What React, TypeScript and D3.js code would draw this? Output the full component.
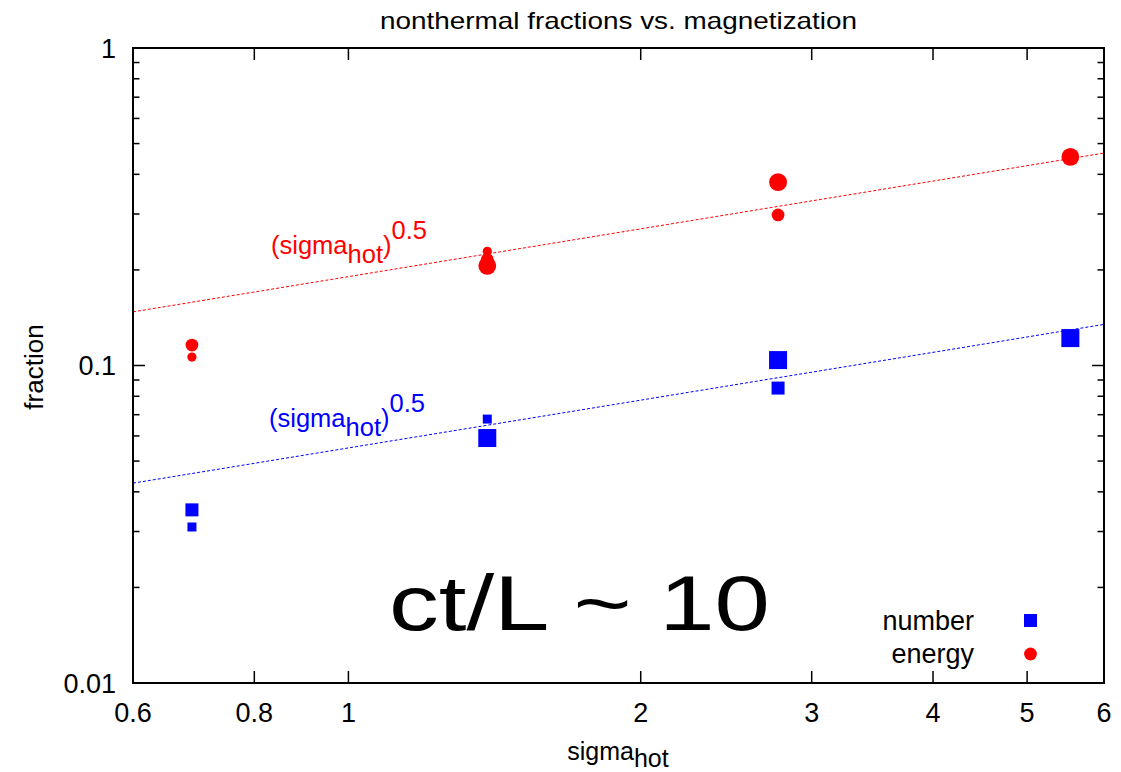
import React from "react";
import * as d3 from "d3";

// ---- data ----
const energySigma = [0.69, 0.69, 1.39, 1.39, 1.39, 2.77, 2.77, 5.54];
const energyFrac = [0.116, 0.1063, 0.229, 0.2158, 0.206, 0.378, 0.298, 0.454];
const energySize = ["m", "s", "s", "m", "l", "l", "m", "l"];
const numberSigma = [0.69, 0.69, 1.39, 1.39, 2.77, 2.77, 5.54];
const numberFrac = [0.0351, 0.031, 0.0678, 0.0591, 0.104, 0.0849, 0.122];
const numberSize = ["m", "s", "s", "l", "l", "m", "l"];
const energyFitCoef = 0.1905;
const numberFitCoef = 0.055;
const fitExponent = 0.5;
const xTicks = [0.6, 0.8, 1, 2, 3, 4, 5, 6];
const xTickLabels = ["0.6", "0.8", "1", "2", "3", "4", "5", "6"];
const yMajorTicks = [0.01, 0.1, 1];
const yMajorLabels = ["0.01", "0.1", "1"];
const yMinorMultipliers = [2, 3, 4, 5, 6, 7, 8, 9];

const W = 1121;
const H = 772;
const L = 133, R = 1104, T = 48, B = 683;
const FONT = "'Liberation Sans', Arial, Helvetica, sans-serif";
const RED = "#ff0000";
const BLUE = "#0000ff";

const circleR: Record<string, number> = { s: 4.6, m: 6.4, l: 8.9 };
const squareS: Record<string, number> = { s: 9, m: 13, l: 18 };

export default function App() {
  const x = d3.scaleLog().domain([0.6, 6]).range([L, R]);
  const y = d3.scaleLog().domain([0.01, 1]).range([B, T]);

  const minorY: number[] = [];
  [0.01, 0.1].forEach((d) => yMinorMultipliers.forEach((m) => minorY.push(d * m)));

  const fitPath = (c: number) => {
    const xs = [0.6, 6];
    return (
      d3
        .line<number>()
        .x((d) => x(d))
        .y((d) => y(c * Math.pow(d, fitExponent)))(xs) || ""
    );
  };

  return (
    <svg
      width={W}
      height={H}
      style={{ position: "absolute", left: 0, top: 0, background: "#fff" }}
      fontFamily={FONT}
    >
      <rect x={0} y={0} width={W} height={H} fill="#fff" />
      {/* title */}
      <text x={(L + R) / 2} y={29} fontSize={24} textAnchor="middle" textLength={477} lengthAdjust="spacingAndGlyphs">
        nonthermal fractions vs. magnetization
      </text>

      {/* fit lines */}
      <path d={fitPath(energyFitCoef)} stroke={RED} strokeWidth={1} strokeDasharray="3,2" fill="none" />
      <path d={fitPath(numberFitCoef)} stroke={BLUE} strokeWidth={1} strokeDasharray="3,2" fill="none" />

      {/* fit labels */}
      <text x={271} y={253.5} fontSize={25.5} fill={RED}>
        (sigma<tspan dy={9.3}>hot</tspan>
        <tspan dy={-9.3}>)</tspan>
        <tspan dy={-15}>0.5</tspan>
      </text>
      <text x={269} y={427} fontSize={25.5} fill={BLUE}>
        (sigma<tspan dy={9.3}>hot</tspan>
        <tspan dy={-9.3}>)</tspan>
        <tspan dy={-15}>0.5</tspan>
      </text>

      {/* big annotation */}
      <text x={389} y={630} fontSize={78} textLength={381} lengthAdjust="spacingAndGlyphs">
        ct/L ~ 10
      </text>

      {/* points: number */}
      {numberSigma.map((s, i) => {
        const sz = squareS[numberSize[i]];
        return (
          <rect
            key={"n" + i}
            x={x(s) - sz / 2}
            y={y(numberFrac[i]) - sz / 2}
            width={sz}
            height={sz}
            fill={BLUE}
          />
        );
      })}
      {/* points: energy */}
      {energySigma.map((s, i) => (
        <circle key={"e" + i} cx={x(s)} cy={y(energyFrac[i])} r={circleR[energySize[i]]} fill={RED} />
      ))}

      {/* legend */}
      <text x={974} y={629.5} fontSize={27} textAnchor="end">number</text>
      <rect x={1030.5 - 6.5} y={620.5 - 6.5} width={13} height={13} fill={BLUE} />
      <text x={974} y={663} fontSize={27} textAnchor="end">energy</text>
      <circle cx={1030.5} cy={654} r={6.4} fill={RED} />

      {/* x ticks */}
      {xTicks.map((t, i) => (
        <g key={"xt" + i}>
          <line x1={x(t)} x2={x(t)} y1={B} y2={B - 12} stroke="#000" strokeWidth={1.5} />
          <line x1={x(t)} x2={x(t)} y1={T} y2={T + 12} stroke="#000" strokeWidth={1.5} />
          <text x={x(t)} y={721.5} fontSize={27} textAnchor="middle">
            {xTickLabels[i]}
          </text>
        </g>
      ))}
      {/* y ticks */}
      {yMajorTicks.map((t, i) => (
        <g key={"yt" + i}>
          <line x1={L} x2={L + 12} y1={y(t)} y2={y(t)} stroke="#000" strokeWidth={1.5} />
          <line x1={R} x2={R - 12} y1={y(t)} y2={y(t)} stroke="#000" strokeWidth={1.5} />
          <text x={116} y={y(t) + 9.5} fontSize={27} textAnchor="end">
            {yMajorLabels[i]}
          </text>
        </g>
      ))}
      {minorY.map((t, i) => (
        <g key={"ym" + i}>
          <line x1={L} x2={L + 6.5} y1={y(t)} y2={y(t)} stroke="#000" strokeWidth={1.5} />
          <line x1={R} x2={R - 6.5} y1={y(t)} y2={y(t)} stroke="#000" strokeWidth={1.5} />
        </g>
      ))}

      {/* frame */}
      <rect x={L} y={T} width={R - L} height={B - T} fill="none" stroke="#000" strokeWidth={2} />

      {/* axis labels */}
      <text x={618} y={760} fontSize={25} textAnchor="middle">
        sigma<tspan dy={7}>hot</tspan>
      </text>
      <text transform={`translate(43,367) rotate(-90)`} fontSize={26} textAnchor="middle">
        fraction
      </text>
    </svg>
  );
}
